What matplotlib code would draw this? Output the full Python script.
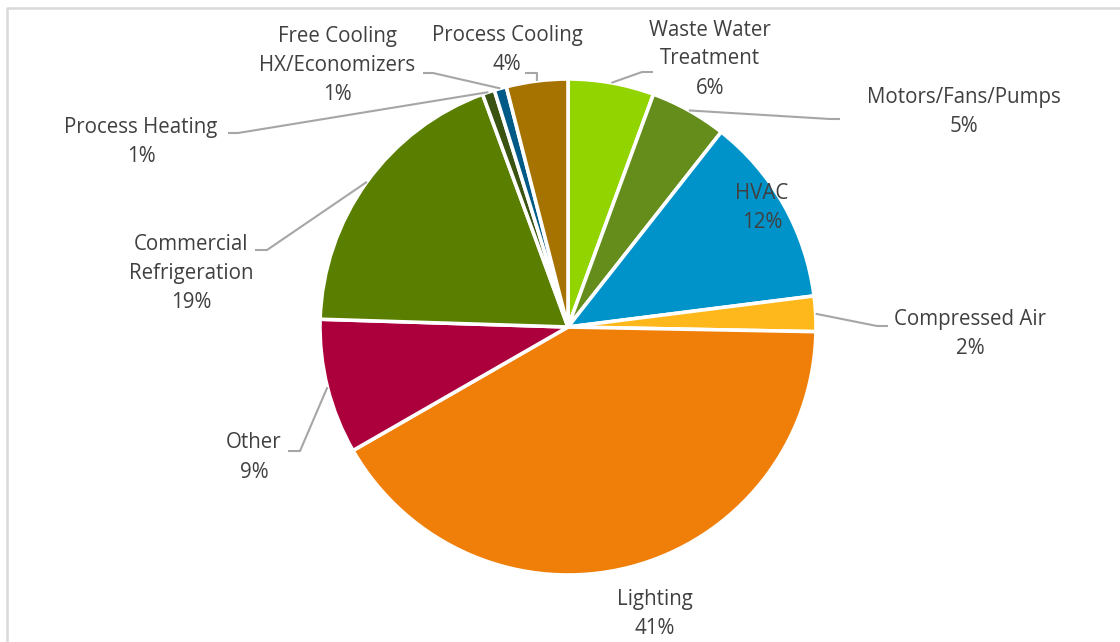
import matplotlib
matplotlib.use("Agg")
import matplotlib.pyplot as plt
import numpy as np

# ---- data ----
categories = ["Waste Water\nTreatment", "Motors/Fans/Pumps", "HVAC", "Compressed Air",
              "Lighting", "Other", "Commercial\nRefrigeration", "Process Heating",
              "Free Cooling\nHX/Economizers", "Process Cooling"]
values = [5.6, 5.0, 12.4, 2.3, 41.4, 8.8, 18.9, 0.8, 0.8, 4.0]
pct_labels = ["6%", "5%", "12%", "2%", "41%", "9%", "19%", "1%", "1%", "4%"]
colors = ["#92D400", "#658D1B", "#0093C9", "#FFB81C", "#F07F09", "#AC003C",
          "#5A7F00", "#3A5311", "#005A87", "#A77300"]

# ---- layout (image pixel coordinates, y downward) ----
W, H = 1120, 642
CX, CY, R = 568, 327, 248
label_pos = [(710, 59), (964, 111.5), (762, 208), (970, 334.5), (655, 614.5),
             (254, 457.5), (191, 273), (141, 142.5), (337, 65.5), (507, 50)]
# leader elbows/ends (None = no leader)
leaders = [[(642, 72), (653, 72)],
           [(830, 119), (840, 119)],
           None,
           [(877, 326), (888, 326)],
           None,
           [(300, 451), (288, 451)],
           [(267, 250), (255, 250)],
           [(238, 133), (228, 133)],
           [(433, 73), (423, 73)],
           [(537, 73), (525, 73)]]

fig = plt.figure(figsize=(W / 100, H / 100), dpi=100)
ax = fig.add_axes([0, 0, 1, 1])

def fy(y):
    return H - y

ax.pie(values, colors=colors, startangle=90, counterclock=False,
       center=(CX, fy(CY)), radius=R,
       wedgeprops=dict(edgecolor="white", linewidth=2.6))
ax.set_xlim(0, W)
ax.set_ylim(0, H)
ax.set_aspect("equal")
ax.set_axis_off()

total = sum(values)
cum = 0.0
txt_color = "#404040"
for i, v in enumerate(values):
    mid = 90 - 360 * (cum + v / 2) / total
    cum += v
    sx = CX + R * np.cos(np.radians(mid))
    sy = fy(CY) + R * np.sin(np.radians(mid))
    if leaders[i] is not None:
        xs = [sx] + [p[0] for p in leaders[i]]
        ys = [sy] + [fy(p[1]) for p in leaders[i]]
        ax.plot(xs, ys, color="#A6A6A6", lw=1.5, solid_capstyle="butt", zorder=1)
    lx, ly = label_pos[i]
    ax.text(lx, fy(ly), categories[i] + "\n" + pct_labels[i], ha="center", va="center",
            fontsize=14.8, family="Open Sans", color=txt_color, linespacing=1.5)

# chart area border (left and top edges visible)
ax.plot([7, 7, W + 5], [-5, fy(8), fy(8)], color="#D9D9D9", lw=1.8, zorder=0)

fig.savefig("out.png", dpi=100, facecolor="white")
